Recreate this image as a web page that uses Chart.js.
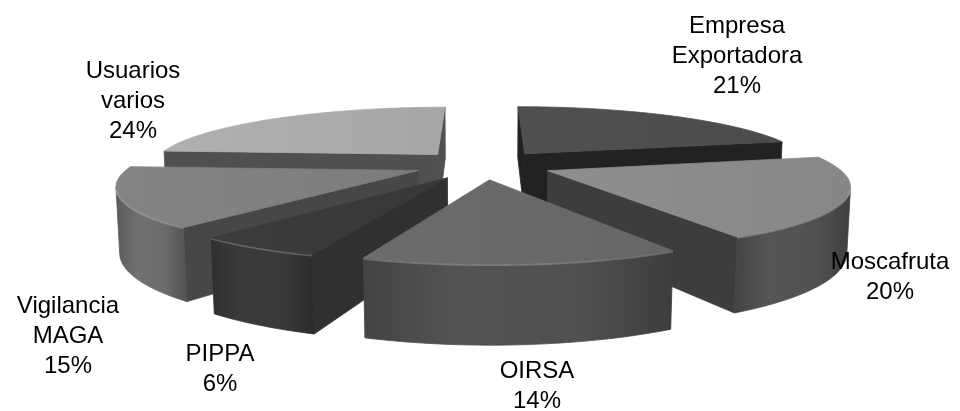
<!DOCTYPE html>
<html>
<head>
<meta charset="utf-8">
<script src="https://cdn.jsdelivr.net/npm/chart.js@4.4.1/dist/chart.umd.min.js"></script>
<style>
html,body{margin:0;padding:0;background:#ffffff;}
#wrap{width:960px;height:411px;position:relative;}
canvas{display:block;}
</style>
</head>
<body>
<div id="wrap"><canvas id="c" width="960" height="411"></canvas></div>
<script>
// ---- data (slice sizes; labels show them rounded) ----
const categories = ['Empresa Exportadora', 'Moscafruta', 'OIRSA', 'PIPPA', 'Vigilancia MAGA', 'Usuarios varios'];
const labelLines = [['Empresa', 'Exportadora'], ['Moscafruta'], ['OIRSA'], ['PIPPA'], ['Vigilancia', 'MAGA'], ['Usuarios', 'varios']];
const shares = [21.4, 20.4, 13.7, 5.6, 14.9, 24.0];

// ---- style ----
const topColors  = ['#4e4e4e', '#8b8b8b', '#696969', '#3a3a3a', '#808080', '#ababab'];
const sideColors = ['#2c2c2c', '#4f4f4f', '#4e4e4e', '#373737', '#686868', '#5a5a5a'];
const cutColors  = ['#222222', '#3d3d3d', '#3f3f3f', '#303030', '#474747', '#505050'];
// label placement relative to pie centre: [dx of text centre, dy of first baseline]
const labelOffsets = [[257, -172.5], [410, 63.5], [57, 172.5], [-260, 155.5], [-412, 107.5], [-347, -127.5]];
const labelFont = '24px "Liberation Sans", Arial, sans-serif';
const lineStep = 30;

const VIEW = {dist: 4.889, elev: Math.asin(0.21), focal: 1406.6, dx: 3.3, dy: -40.8, depth: 0.2226, explode: 0.24};

function shade(hex, f) {
  const n = parseInt(hex.slice(1), 16);
  const r = Math.min(255, Math.round(((n >> 16) & 255) * f));
  const g = Math.min(255, Math.round(((n >> 8) & 255) * f));
  const b = Math.min(255, Math.round((n & 255) * f));
  return 'rgb(' + r + ',' + g + ',' + b + ')';
}

function poly(ctx, pts, style) {
  ctx.beginPath();
  pts.forEach((p, i) => i ? ctx.lineTo(p[0], p[1]) : ctx.moveTo(p[0], p[1]));
  ctx.closePath();
  ctx.fillStyle = style;
  ctx.strokeStyle = style;
  ctx.lineWidth = 0.8;
  ctx.fill();
  ctx.stroke();
}

function drawSlice(ctx, P, cam, a0, a1, k) {
  const E = VIEW.explode, H = VIEW.depth;
  const m = (a0 + a1) / 2, ox = E * Math.cos(m), oy = E * Math.sin(m);
  const N = Math.max(6, Math.ceil((a1 - a0) / 0.015));
  const pts = [];
  for (let j = 0; j <= N; j++) {
    const t = a0 + (a1 - a0) * j / N;
    pts.push({t: t, x: ox + Math.cos(t), y: oy + Math.sin(t)});
  }
  const apexT = P(ox, oy, 0), apexB = P(ox, oy, -H);
  const first = pts[0], last = pts[N];
  // radial cut faces
  const ns = [Math.sin(a0), -Math.cos(a0)];
  if ((cam[0] - ox) * ns[0] + (cam[1] - oy) * ns[1] > 0) {
    poly(ctx, [apexT, P(first.x, first.y, 0), P(first.x, first.y, -H), apexB], cutColors[k]);
  }
  const ne = [-Math.sin(a1), Math.cos(a1)];
  if ((cam[0] - ox) * ne[0] + (cam[1] - oy) * ne[1] > 0) {
    poly(ctx, [apexT, P(last.x, last.y, 0), P(last.x, last.y, -H), apexB], cutColors[k]);
  }
  // outer curved side, visible runs only
  const runs = [];
  let run = [];
  for (let j = 0; j < N; j++) {
    const t = (pts[j].t + pts[j + 1].t) / 2;
    const nx = Math.cos(t), ny = Math.sin(t);
    const px = ox + nx, py = oy + ny;
    const vis = (cam[0] - px) * nx + (cam[1] - py) * ny > 0;
    if (vis) { if (!run.length) run.push(pts[j]); run.push(pts[j + 1]); }
    else if (run.length) { runs.push(run); run = []; }
  }
  if (run.length) runs.push(run);
  runs.forEach(r => {
    const top = r.map(p => P(p.x, p.y, 0));
    const bot = r.map(p => P(p.x, p.y, -H));
    let minX = Infinity, maxX = -Infinity;
    top.concat(bot).forEach(q => { minX = Math.min(minX, q[0]); maxX = Math.max(maxX, q[0]); });
    const g = ctx.createLinearGradient(minX, 0, maxX + 0.01, 0);
    g.addColorStop(0, shade(sideColors[k], 0.86));
    g.addColorStop(0.3, shade(sideColors[k], 1.08));
    g.addColorStop(0.7, shade(sideColors[k], 1.03));
    g.addColorStop(1, shade(sideColors[k], 0.78));
    poly(ctx, top.concat(bot.slice().reverse()), g);
  });
  // top face
  const tp = [apexT].concat(pts.map(p => P(p.x, p.y, 0)));
  let minX = Infinity, maxX = -Infinity;
  tp.forEach(q => { minX = Math.min(minX, q[0]); maxX = Math.max(maxX, q[0]); });
  const tg = ctx.createLinearGradient(minX, 0, maxX + 0.01, 0);
  tg.addColorStop(0, shade(topColors[k], 1.03));
  tg.addColorStop(1, shade(topColors[k], 0.97));
  poly(ctx, tp, tg);
  // light rim on top edge of the visible side
  runs.forEach(r => {
    const top = r.map(p => P(p.x, p.y, 0));
    ctx.beginPath();
    top.forEach((p, i) => i ? ctx.lineTo(p[0], p[1] + 1) : ctx.moveTo(p[0], p[1] + 1));
    ctx.strokeStyle = 'rgba(255,255,255,0.22)';
    ctx.lineWidth = 1.6;
    ctx.stroke();
  });
}

const pie3d = {
  id: 'pie3d',
  beforeDatasetsDraw(chart) {
    const meta = chart.getDatasetMeta(0);
    const arcs = meta.data;
    if (!arcs.length) return false;
    const ctx = chart.ctx;
    const cx = arcs[0].x + VIEW.dx, cy = arcs[0].y + VIEW.dy;
    const s = Math.sin(VIEW.elev), c = Math.cos(VIEW.elev);
    const P = (x, y, z) => {
      const w = VIEW.dist - (y * c + z * s);
      return [cx + VIEW.focal * x / w, cy + VIEW.focal * (y * s - z * c) / w];
    };
    const cam = [0, VIEW.dist * c, VIEW.dist * s];
    const order = arcs.map((a, i) => ({i: i, a0: a.startAngle, a1: a.endAngle}))
      .sort((p, q) => Math.sin((p.a0 + p.a1) / 2) - Math.sin((q.a0 + q.a1) / 2));
    ctx.save();
    ctx.lineJoin = 'round';
    order.forEach(o => drawSlice(ctx, P, cam, o.a0, o.a1, o.i));
    // data labels
    ctx.fillStyle = '#000000';
    ctx.font = labelFont;
    ctx.textAlign = 'center';
    ctx.textBaseline = 'alphabetic';
    const total = shares.reduce((a, b) => a + b, 0);
    arcs.forEach((a, i) => {
      const lines = labelLines[i].concat([Math.round(shares[i] / total * 100) + '%']);
      const lx = a.x + labelOffsets[i][0], ly = a.y + labelOffsets[i][1];
      lines.forEach((t, j) => ctx.fillText(t, lx, ly + j * lineStep));
    });
    ctx.restore();
    return false;
  }
};

new Chart(document.getElementById('c'), {
  type: 'pie',
  data: {
    labels: categories,
    datasets: [{data: shares, backgroundColor: topColors, borderWidth: 0}]
  },
  options: {
    responsive: false,
    devicePixelRatio: 1,
    animation: false,
    rotation: 0,
    layout: {padding: 0},
    plugins: {legend: {display: false}, tooltip: {enabled: false}, title: {display: false}}
  },
  plugins: [pie3d]
});
</script>
</body>
</html>
